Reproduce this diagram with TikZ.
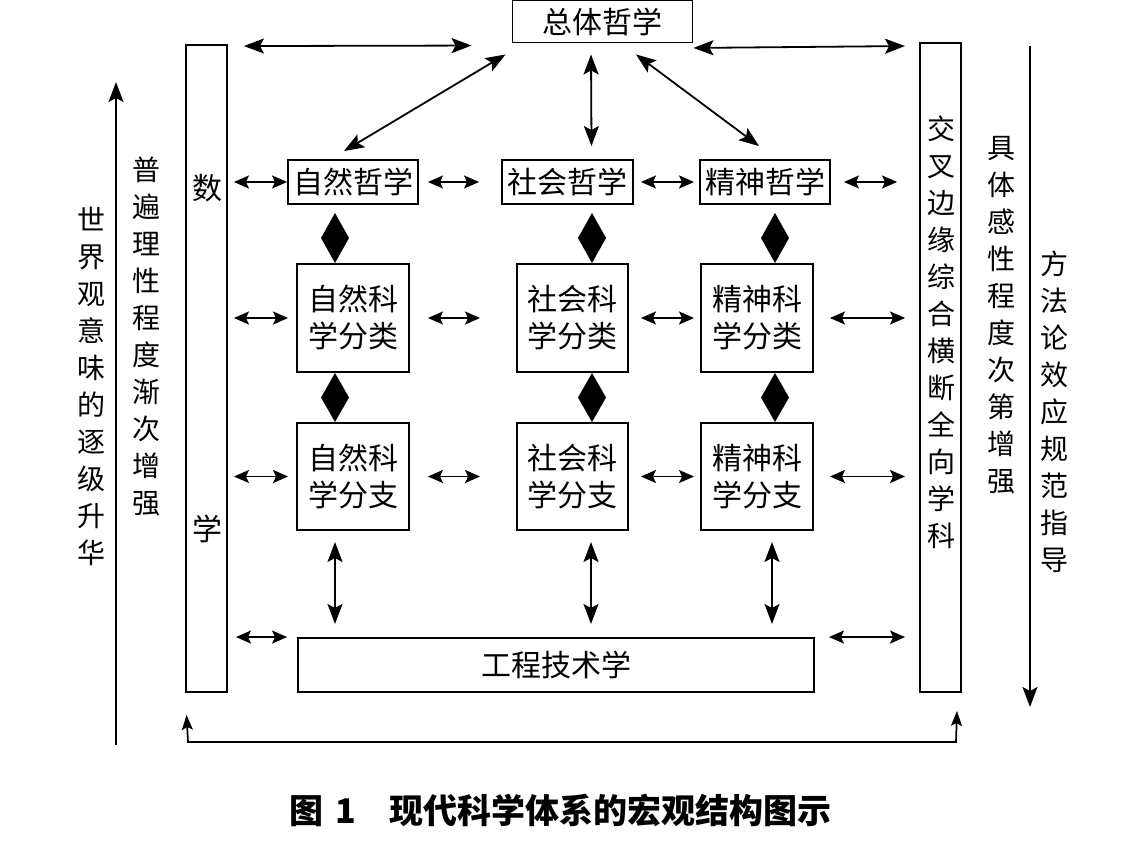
\documentclass[tikz,border=0pt]{standalone}
\usepackage{fontspec}
\setmainfont{Noto Sans CJK SC}
\usetikzlibrary{arrows.meta}
\begin{document}
\begin{tikzpicture}[x=1pt,y=-1pt,
  box/.style={draw, line width=1.9pt, inner sep=0pt, align=center, font=\fontsize{30}{37}\selectfont},
  dbl/.style={line width=1.7pt, {Stealth[length=15pt,width=13pt,inset=3pt]}-{Stealth[length=15pt,width=13pt,inset=3pt]}},
  bigdbl/.style={line width=1.8pt, {Stealth[length=20pt,width=15pt,inset=4pt]}-{Stealth[length=20pt,width=15pt,inset=4pt]}},
  vt/.style={inner sep=0pt, align=center, font=\fontsize{28}{37}\selectfont}]
\useasboundingbox (0,0) rectangle (1140,853);
% top
\node[box, minimum width=180pt, minimum height=42pt] (top) at (602.5,21.5) {总体哲学};
% side bars
\node[box, minimum width=41pt, minimum height=647pt] (lbar) at (206.5,368.5) {};
\node[box, minimum width=41pt, minimum height=649pt] (rbar) at (940.5,367.5) {};
\node[vt, font=\fontsize{30}{37}\selectfont] (m1) at (207,188) {数};
\node[vt, font=\fontsize{30}{37}\selectfont] (m2) at (207,529) {学};
\node[vt] (rtext) at (941,332) {交\\叉\\边\\缘\\综\\合\\横\\断\\全\\向\\学\\科};
% philosophy row
\node[box, minimum width=130pt, minimum height=44pt] (p1) at (353,182) {自然哲学};
\node[box, minimum width=131pt, minimum height=44pt] (p2) at (567.5,182) {社会哲学};
\node[box, minimum width=130pt, minimum height=44pt] (p3) at (765,182) {精神哲学};
% classification row
\node[box, minimum width=112pt, minimum height=108pt] (c1) at (353,318) {自然科\\学分类};
\node[box, minimum width=111pt, minimum height=108pt] (c2) at (572.5,318) {社会科\\学分类};
\node[box, minimum width=112pt, minimum height=108pt] (c3) at (757,318) {精神科\\学分类};
% branch row
\node[box, minimum width=112pt, minimum height=107pt] (b1) at (353,476.5) {自然科\\学分支};
\node[box, minimum width=111pt, minimum height=107pt] (b2) at (572.5,476.5) {社会科\\学分支};
\node[box, minimum width=112pt, minimum height=107pt] (b3) at (757,476.5) {精神科\\学分支};
% engineering
\node[box, minimum width=516pt, minimum height=54pt] (eng) at (556,665) {工程技术学};
% diamonds
\foreach \x in {335,592,775}{
  \fill (\x,213) -- (\x+14,238) -- (\x,263) -- (\x-14,238) -- cycle;
  \fill (\x,373) -- (\x+14,397.5) -- (\x,422) -- (\x-14,397.5) -- cycle;
}
% top arrows
\draw[bigdbl] ([xshift=16pt,yshift=-2pt]lbar.north east) -- ([xshift=-40pt,yshift=-46pt]top.north west);
\draw[bigdbl] ([yshift=-4.5pt]top.south east) -- ([xshift=-14pt,yshift=-4pt]rbar.north west);
\draw[bigdbl] ([xshift=-6pt,yshift=-11pt]top.south west) -- ([xshift=-9pt,yshift=8pt]p1.north);
\draw[bigdbl] ([xshift=-11.5pt,yshift=-11pt]top.south) -- ([xshift=24pt,yshift=13pt]p2.north);
\draw[bigdbl] ([xshift=33.5pt,yshift=-11pt]top.south) -- ([xshift=-6pt,yshift=13pt]p3.north);
% philosophy row arrows
\draw[dbl] ([xshift=6pt]lbar.east |- p1.west) -- (p1.west);
\draw[dbl] ([xshift=9pt]p1.east) -- ([xshift=-22pt]p2.west);
\draw[dbl] ([xshift=7pt]p2.east) -- ([xshift=-5pt]p3.west);
\draw[dbl] ([xshift=13pt]p3.east) -- ([xshift=-22pt]rbar.west |- p3.east);
% classification row arrows
\draw[dbl] ([xshift=6pt]lbar.east |- c1.west) -- ([xshift=-8pt]c1.west);
\draw[dbl] ([xshift=18pt]c1.east) -- ([xshift=-36pt]c2.west);
\draw[dbl] ([xshift=12pt]c2.east) -- ([xshift=-6pt]c3.west);
\draw[dbl] ([xshift=16pt]c3.east) -- ([xshift=-14pt]rbar.west |- c3.east);
% branch row arrows
\draw[dbl] ([xshift=6pt]lbar.east |- b1.west) -- ([xshift=-8pt]b1.west);
\draw[dbl] ([xshift=18pt]b1.east) -- ([xshift=-36pt]b2.west);
\draw[dbl] ([xshift=12pt]b2.east) -- ([xshift=-6pt]b3.west);
\draw[dbl] ([xshift=16pt]b3.east) -- ([xshift=-14pt]rbar.west |- b3.east);
% vertical arrows to engineering
\coordinate (s1) at (335,542);
\coordinate (s2) at (591,542);
\coordinate (s3) at (772,542);
\coordinate (e1) at (335,624);
\coordinate (e2) at (591,624);
\coordinate (e3) at (772,624);
\draw[bigdbl, line width=1.5pt] (s1) -- (e1);
\draw[bigdbl, line width=1.5pt] (s2) -- (e2);
\draw[bigdbl, line width=1.5pt] (s3) -- (e3);
% bottom row arrows
\draw[dbl] ([xshift=8pt]lbar.east |- eng.north west) -- ([xshift=-10pt]eng.north west);
\draw[dbl] ([xshift=14pt]eng.north east) -- ([xshift=-14pt]rbar.west |- eng.north east);
% bottom loop
\coordinate (bl) at (188,742);
\coordinate (br) at (956,742);
\draw[line width=1.7pt, {Stealth[length=15pt,width=11pt,inset=3pt]}-{Stealth[length=15pt,width=11pt,inset=3pt]}] ([xshift=1.5pt,yshift=-22pt]lbar.south west) -- (bl) -- (br) -- ([xshift=-5pt,yshift=-18pt]rbar.south east);
% outer arrows
\coordinate (la0) at (116,745);
\coordinate (la1) at (116,82);
\draw[line width=1.6pt, -{Stealth[length=20pt,width=15pt,inset=4pt]}] (la0) -- (la1);
\coordinate (ra0) at (1030,46);
\coordinate (ra1) at (1030,707);
\draw[line width=1.6pt, -{Stealth[length=20pt,width=15pt,inset=4pt]}] (ra0) -- (ra1);
% side texts
\node[vt] (t1) at (91,386) {世\\界\\观\\意\\味\\的\\逐\\级\\升\\华};
\node[vt] (t2) at (146,336) {普\\遍\\理\\性\\程\\度\\渐\\次\\增\\强};
\node[vt] (t3) at (1001,315) {具\\体\\感\\性\\程\\度\\次\\第\\增\\强};
\node[vt] (t4) at (1054,412) {方\\法\\论\\效\\应\\规\\范\\指\\导};
% caption
\node[anchor=west, inner sep=0pt, font=\fontsize{34}{40}\selectfont\bfseries] (cap) at (289,810) {图\hspace{12pt}1\hspace{34pt}现代科学体系的宏观结构图示};
\end{tikzpicture}
\end{document}
